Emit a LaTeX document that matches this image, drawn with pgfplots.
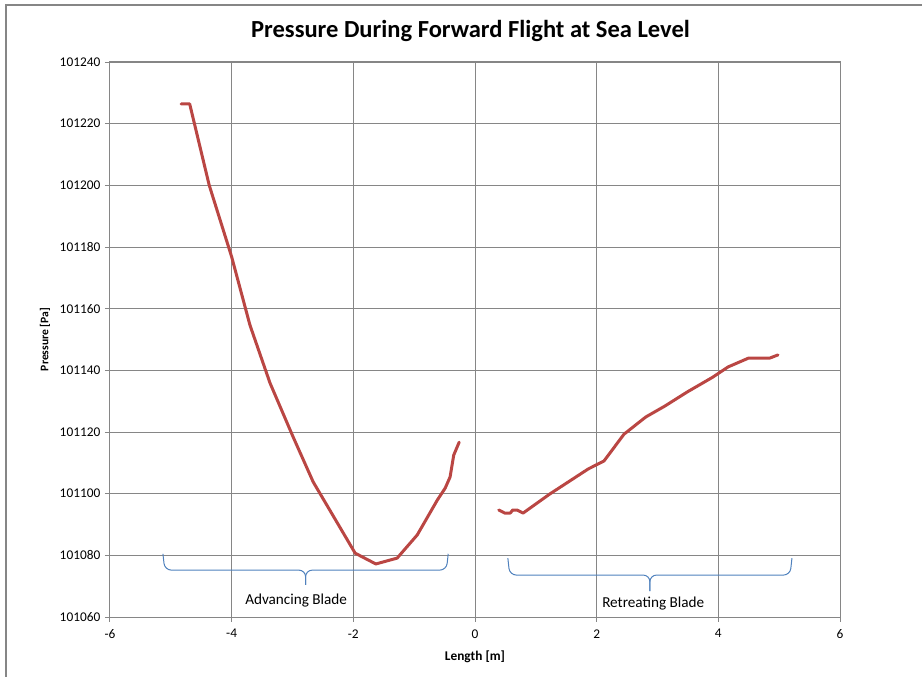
\documentclass[border=0pt]{standalone}
\usepackage{fontspec}
\setmainfont{Carlito}
\usepackage{pgfplots}
\pgfplotsset{compat=1.18}
\definecolor{linered}{HTML}{BA4643}
\definecolor{braceblue}{HTML}{4F81BD}
\definecolor{gridgray}{HTML}{868686}
\begin{document}
\begin{tikzpicture}
\path[use as bounding box] (0pt,0pt) rectangle (691.5pt,507pt);
\draw[gridgray, line width=1.1pt] (4.5pt,-2pt) -- (4.5pt,503.2pt) -- (694pt,503.2pt);
\node[font=\bfseries\fontsize{18.4}{21}\selectfont, anchor=center] at (352.9pt,483.5pt) {Pressure During Forward Flight at Sea Level};
\begin{axis}[
  at={(82.5pt,44.25pt)}, anchor=south west, scale only axis,
  width=547.5pt, height=416.25pt,
  xmin=-6, xmax=6, ymin=101060, ymax=101240,
  xtick distance=2, ytick distance=20,
  grid=major,
  major grid style={gridgray, line width=0.75pt},
  axis line style={gridgray, line width=0.75pt},
  tick align=outside, tick pos=left, major tick length=3.75pt,
  tick style={gridgray, line width=0.75pt},
  tick label style={font=\fontsize{10}{12}\selectfont, text=black},
  xticklabel style={yshift=-2pt},
  /pgf/number format/assume math mode=true,
  scaled y ticks=false,
  yticklabel style={/pgf/number format/.cd, 1000 sep={}, fixed},
  xlabel={Length [m]},
  ylabel={Pressure [Pa]},
  xlabel style={at={(axis description cs:0.5,-0.072)}, anchor=center, font=\bfseries\fontsize{10}{12}\selectfont},
  ylabel style={at={(axis description cs:-0.089,0.5)}, anchor=center, font=\bfseries\fontsize{8.7}{10}\selectfont},
  clip=false,
]
\addplot[linered, line width=2.25pt, line join=round, line cap=round] coordinates {
(-4.83,101226.4) (-4.69,101226.4) (-4.37,101200.1) (-4.00,101176.8)
(-3.70,101154.7) (-3.37,101135.9) (-2.99,101118.4) (-2.66,101103.8)
(-1.97,101080.7) (-1.63,101077.2) (-1.28,101079.1) (-0.95,101086.6)
(-0.62,101097.9) (-0.49,101101.8) (-0.41,101105.4) (-0.35,101112.5)
(-0.26,101116.7)
};
\addplot[linered, line width=2.25pt, line join=round, line cap=round] coordinates {
(0.39,101094.7) (0.49,101093.7) (0.58,101093.7) (0.62,101094.7)
(0.69,101094.7) (0.79,101093.7) (1.23,101099.9) (1.86,101108.0)
(2.12,101110.6) (2.45,101119.3) (2.70,101123.2) (2.81,101124.9)
(3.12,101128.4) (3.49,101133.0) (3.91,101137.8) (4.16,101141.1)
(4.50,101144.0) (4.85,101144.0) (4.98,101145.0)
};
% braces
\draw[braceblue, line width=0.75pt, rounded corners=5pt]
  (axis cs:-5.13,101080.5) -- (axis cs:-5.10,101075.2) -- (axis cs:-2.785,101075.2) -- (axis cs:-2.785,101070.4);
\draw[braceblue, line width=0.75pt, rounded corners=5pt]
  (axis cs:-0.44,101080.5) -- (axis cs:-0.47,101075.2) -- (axis cs:-2.785,101075.2) -- (axis cs:-2.785,101070.4);
\draw[braceblue, line width=0.75pt, rounded corners=5pt]
  (axis cs:0.54,101079.1) -- (axis cs:0.57,101073.6) -- (axis cs:2.875,101073.6) -- (axis cs:2.875,101068.4);
\draw[braceblue, line width=0.75pt, rounded corners=5pt]
  (axis cs:5.21,101079.1) -- (axis cs:5.18,101073.6) -- (axis cs:2.875,101073.6) -- (axis cs:2.875,101068.4);
\node[font=\fontsize{11.4}{13}\selectfont] at (axis cs:-2.94,101065.5) {Advancing Blade};
\node[font=\fontsize{11.4}{13}\selectfont] at (axis cs:2.93,101064.5) {Retreating Blade};
\end{axis}
\end{tikzpicture}
\end{document}
